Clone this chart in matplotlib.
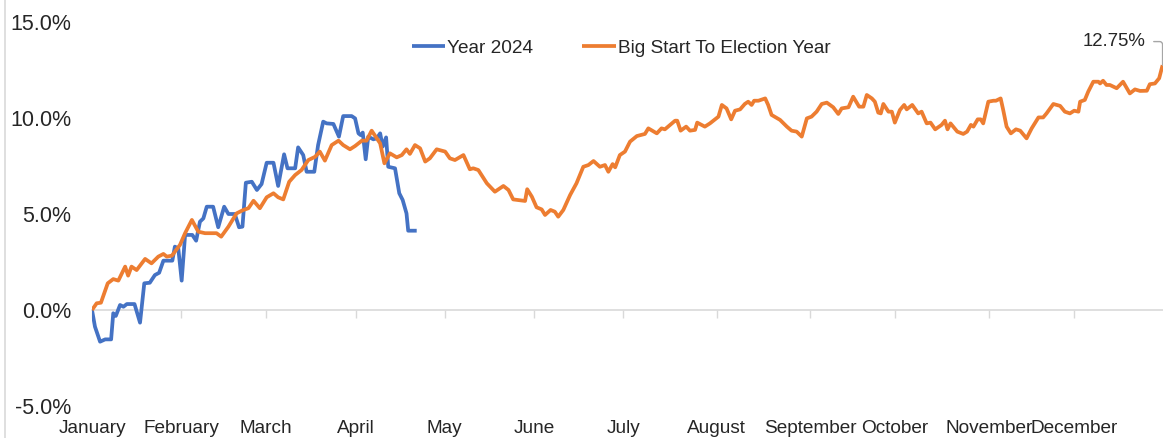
import matplotlib
matplotlib.use("Agg")
import matplotlib.pyplot as plt
from matplotlib.lines import Line2D

plt.rcParams['font.family'] = ['Liberation Sans', 'DejaVu Sans']

# ---------------- data ----------------
months = ["January", "February", "March", "April", "May", "June", "July",
          "August", "September", "October", "November", "December"]
month_start_day = [0, 21, 41, 62, 83, 104, 125, 147, 169, 189, 211, 231]

y_ticks = [-5, 0, 5, 10, 15]
y_tick_labels = ["-5.0%", "0.0%", "5.0%", "10.0%", "15.0%"]

# Year 2024 (trading day index, cumulative % change)
blue_day = [0.0, 0.7, 1.9, 3.1, 4.5, 5.0, 5.6, 6.6, 7.4, 8.2,
            10.0, 11.3, 12.3, 13.6, 14.8, 15.8, 16.8, 18.9, 19.5, 20.3,
            21.1, 21.9, 23.6, 24.5, 25.4, 26.2, 27.0, 28.5, 29.7, 31.1,
            32.1, 33.6, 34.6, 35.4, 36.2, 37.6, 38.8, 39.9, 41.1, 42.7,
            43.8, 45.2, 46.0, 47.8, 48.5, 49.7, 50.5, 52.3, 53.2, 54.4,
            55.2, 56.8, 58.1, 59.1, 61.1, 61.9, 62.7, 63.2, 63.7, 64.4,
            65.0, 66.2, 67.0, 67.8, 68.4, 69.2, 69.7, 71.3, 72.3, 73.1,
            74.0, 74.4, 76.4]
blue_val = [0.00, -0.87, -1.65, -1.53, -1.53, -0.17, -0.31, 0.26, 0.17, 0.31,
            0.31, -0.66, 1.39, 1.42, 1.82, 1.94, 2.57, 2.57, 3.30, 3.21,
            1.53, 3.91, 3.91, 3.61, 4.60, 4.77, 5.38, 5.38, 4.31, 5.38,
            5.00, 5.00, 4.31, 4.34, 6.63, 6.68, 6.25, 6.56, 7.67, 7.67,
            6.46, 8.11, 7.38, 7.38, 8.47, 8.07, 7.20, 7.20, 8.59, 9.81,
            9.72, 9.69, 9.03, 10.10, 10.10, 9.98, 9.20, 9.11, 9.24, 7.85,
            9.03, 8.89, 8.94, 9.20, 8.51, 8.99, 7.46, 7.38, 6.08, 5.73,
            5.03, 4.13, 4.13]

# Big Start To Election Year (trading day index, cumulative % change)
orange_day = [0.0, 1.1, 2.1, 3.7, 5.0, 6.2, 7.8, 8.5, 9.3, 10.5,
              12.5, 14.0, 15.6, 16.8, 17.6, 18.8, 20.7, 21.9, 23.5, 25.0,
              26.6, 29.3, 30.4, 32.1, 34.0, 35.6, 36.8, 38.0, 39.5, 41.1,
              42.7, 43.8, 45.0, 46.4, 47.8, 49.3, 50.9, 52.5, 53.6, 54.8,
              56.4, 58.0, 59.1, 60.7, 61.9, 63.5, 64.6, 65.8, 67.0, 67.8,
              68.8, 70.1, 71.7, 72.9, 74.0, 74.8, 76.0, 77.2, 78.4, 79.5,
              81.1, 83.1, 84.2, 85.4, 87.4, 88.9, 89.7, 90.9, 92.9, 94.8,
              96.8, 98.0, 99.1, 101.9, 102.4, 103.5, 104.6, 105.8, 106.6, 107.9,
              108.9, 109.7, 110.9, 112.5, 114.0, 115.6, 116.8, 118.0, 119.5, 120.7,
              121.5, 122.5, 123.1, 124.2, 125.4, 126.6, 128.2, 130.1, 130.9, 132.9,
              134.0, 134.8, 137.2, 137.7, 138.5, 139.8, 140.7, 141.9, 142.4, 144.2,
              145.4, 147.4, 148.2, 149.3, 150.4, 151.3, 152.5, 153.6, 154.4, 155.2,
              155.8, 156.8, 158.4, 159.1, 159.9, 161.9, 163.5, 164.6, 165.8, 167.0,
              168.2, 169.3, 170.5, 171.7, 172.9, 174.4, 175.6, 176.4, 178.0, 179.1,
              180.5, 181.5, 182.3, 183.5, 184.2, 185.0, 185.6, 186.2, 187.4, 188.2,
              188.9, 190.1, 191.1, 191.7, 193.0, 194.4, 195.2, 196.4, 197.3, 198.4,
              199.9, 200.7, 201.3, 202.0, 203.6, 205.0, 205.9, 206.8, 207.4, 208.4,
              209.1, 209.7, 210.9, 212.1, 212.7, 213.8, 214.4, 215.2, 216.2, 217.4,
              218.4, 219.9, 221.1, 222.7, 223.8, 224.6, 226.2, 227.8, 228.9, 230.1,
              231.1, 232.1, 232.5, 233.6, 234.4, 235.6, 236.8, 237.2, 237.9, 238.7,
              239.5, 241.1, 242.6, 244.2, 245.4, 246.6, 248.2, 248.9, 250.1, 251.1,
              251.9]
orange_val = [0.00, 0.35, 0.38, 1.39, 1.61, 1.53, 2.26, 1.79, 2.26, 2.08,
              2.66, 2.43, 2.78, 2.92, 2.78, 2.83, 3.39, 4.00, 4.69, 4.08,
              4.00, 4.00, 3.82, 4.34, 5.03, 5.21, 5.30, 5.69, 5.30, 5.87,
              6.08, 5.87, 5.76, 6.68, 7.03, 7.29, 7.81, 7.98, 8.25, 7.78,
              8.59, 8.82, 8.59, 8.37, 8.54, 8.82, 8.82, 9.34, 8.94, 8.68,
              7.64, 8.16, 7.95, 8.07, 8.37, 8.13, 8.59, 8.42, 7.73, 7.90,
              8.37, 8.25, 7.90, 7.81, 8.07, 7.33, 7.38, 7.29, 6.60, 6.16,
              6.46, 6.25, 5.76, 5.68, 6.29, 5.90, 5.35, 5.24, 4.95, 5.21,
              5.12, 4.86, 5.21, 5.99, 6.60, 7.46, 7.55, 7.76, 7.46, 7.55,
              7.20, 7.60, 7.43, 8.07, 8.25, 8.77, 9.06, 9.17, 9.46, 9.20,
              9.46, 9.41, 9.86, 9.86, 9.34, 9.55, 9.34, 9.38, 9.76, 9.55,
              9.72, 10.07, 10.68, 10.50, 9.93, 10.38, 10.45, 10.73, 10.85, 10.68,
              10.90, 10.90, 11.02, 10.68, 10.16, 9.90, 9.55, 9.34, 9.29, 9.03,
              9.98, 10.07, 10.33, 10.73, 10.80, 10.56, 10.21, 10.50, 10.56, 11.11,
              10.59, 10.59, 11.20, 11.02, 10.85, 10.28, 10.24, 10.73, 10.33, 10.33,
              9.76, 10.42, 10.68, 10.45, 10.68, 10.24, 10.33, 9.72, 9.76, 9.41,
              9.64, 9.86, 9.41, 9.72, 9.29, 9.17, 9.29, 9.64, 9.55, 9.93,
              9.93, 9.72, 10.85, 10.90, 10.90, 11.02, 10.42, 9.55, 9.20, 9.41,
              9.34, 8.94, 9.46, 10.03, 10.03, 10.24, 10.73, 10.63, 10.33, 10.24,
              10.38, 10.33, 10.85, 10.94, 11.37, 11.89, 11.89, 11.80, 11.94, 11.72,
              11.72, 11.55, 11.89, 11.28, 11.49, 11.41, 11.42, 11.76, 11.80, 12.07,
              12.75]

end_label = "12.75%"

# ---------------- figure ----------------
W, H = 1163, 438
fig = plt.figure(figsize=(W / 100, H / 100), dpi=100)
ax = fig.add_axes([92 / W, 32 / H, 1071 / W, 384 / H])

text_color = "#262626"
blue = "#4472C4"
orange = "#ED7D31"
grey = "#D9D9D9"

ax.plot(blue_day, blue_val, color=blue, lw=2.7, label="Year 2024",
        solid_joinstyle="round", solid_capstyle="butt", zorder=3)
ax.plot(orange_day, orange_val, color=orange, lw=2.7,
        label="Big Start To Election Year", solid_joinstyle="round",
        solid_capstyle="butt", zorder=3)

ax.set_xlim(0, 252)
ax.set_ylim(-5, 15)

for s in ax.spines.values():
    s.set_visible(False)

ax.set_yticks(y_ticks)
ax.set_yticklabels(y_tick_labels)
ax.tick_params(axis="y", length=0, pad=15, labelsize=15.5, labelcolor=text_color)

ax.set_xticks(month_start_day)
ax.set_xticklabels(months)
ax.tick_params(axis="x", length=0, pad=10, labelsize=13.7, labelcolor=text_color)

# zero line with tick marks
sec = ax.secondary_xaxis(0.25)
sec.set_xticks(month_start_day)
sec.tick_params(axis="x", direction="out", length=6, width=1, color=grey,
                labelbottom=False, labeltop=False)
for name, s in sec.spines.items():
    s.set_visible(False)
sec.spines["bottom"].set_visible(True)
sec.spines["bottom"].set_color(grey)
sec.spines["bottom"].set_linewidth(1.2)

# legend
leg = ax.legend(loc="center", bbox_to_anchor=(0.494, 0.932), ncol=2,
                frameon=False, fontsize=13.7, handlelength=1.75,
                handletextpad=0.1, columnspacing=2.6)
for t in leg.get_texts():
    t.set_color(text_color)

# end annotation
ax.annotate(end_label, xy=(orange_day[-1], orange_val[-1]),
            xytext=(-35, 17), textcoords="offset points",
            ha="center", va="center", fontsize=13.4, color=text_color,
            annotation_clip=False,
            arrowprops=dict(arrowstyle="-", color="#A6A6A6", lw=1,
                            relpos=(1, 0.5), shrinkA=4, shrinkB=0,
                            connectionstyle="angle,angleA=0,angleB=90,rad=3"))

# chart-area left border
fig.add_artist(Line2D([5 / W, 5 / W], [0, 1], transform=fig.transFigure,
                      color=grey, lw=1.2))

fig.savefig("out.png", dpi=100)
